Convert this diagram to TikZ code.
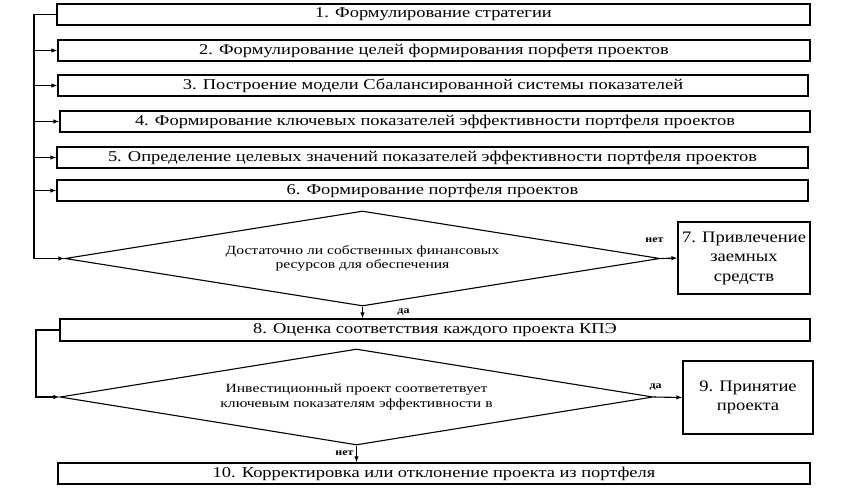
\documentclass[tikz,border=0pt]{standalone}
\usepackage{fontspec}
\setmainfont{Liberation Serif}
\newfontfamily\boxfont[FakeStretch=1.23]{Liberation Serif}
\newfontfamily\sidefont[FakeStretch=1.16]{Liberation Serif}
\newfontfamily\dfont[FakeStretch=1.25]{Liberation Serif}
\newfontfamily\lblfont[FakeStretch=1.2]{Liberation Serif}
\usetikzlibrary{shapes.geometric,arrows.meta}
\begin{document}
\begin{tikzpicture}[x=1pt,y=-1pt,
  box/.style={draw,line width=1.3pt,rectangle,inner sep=0pt,font=\boxfont\fontsize{15}{16}\selectfont},
  sidebox/.style={draw,line width=1.1pt,rectangle,inner sep=0pt,align=center,font=\sidefont\fontsize{16}{19.5}\selectfont},
  dia/.style={draw,line width=1.1pt,diamond,inner sep=0pt,align=center,font=\dfont\fontsize{12.5}{14.5}\selectfont,aspect=6.25},
  arr/.style={line width=1.1pt,-{Latex[length=6pt,width=4.5pt]}},
  lbl/.style={font=\lblfont\bfseries\fontsize{10}{11}\selectfont,inner sep=0pt}]
\useasboundingbox (0,0) rectangle (857,493);
\node[box,minimum width=753pt,minimum height=21pt] (b1) at (433.5,14.5) {1. Формулирование  стратегии};
\node[box,minimum width=752pt,minimum height=21pt] (b2) at (434,50.5) {2. Формулирование целей  формирования порфетя проектов};
\node[box,minimum width=750pt,minimum height=21pt] (b3) at (433,85.5) {3. Построение модели Сбалансированной системы показателей};
\node[box,minimum width=750pt,minimum height=21pt] (b4) at (435,121.5) {4. Формирование ключевых показателей эффективности портфеля проектов};
\node[box,minimum width=751pt,minimum height=21pt] (b5) at (432.5,157.5) {5. Определение целевых значений показателей эффективности портфеля проектов};
\node[box,minimum width=751pt,minimum height=21pt] (b6) at (432.5,190.5) {6. Формирование  портфеля проектов};
\node[dia,minimum width=595pt,minimum height=95pt] (d1) at (362.5,258.5) {Достаточно ли собственных финансовых\\ресурсов для обеспечения};
\node[sidebox,minimum width=132pt,minimum height=72pt] (b7) at (744,258) {7. Привлечение\\заемных\\средств};
\node[box,minimum width=750pt,minimum height=22pt] (b8) at (435,330) {8. Оценка соответствия каждого проекта КПЭ};
\node[dia,minimum width=593pt,minimum height=96pt] (d2) at (356.5,397) {Инвестиционный проект соответетвует\\ключевым показателям эффективности в};
\node[sidebox,line width=1.3pt,minimum width=130pt,minimum height=73pt] (b9) at (748,397.5) {9. Принятие\\проекта};
\node[box,minimum width=752pt,minimum height=21pt] (b10) at (434,473.5) {10. Корректировка или отклонение проекта  из портфеля};
\coordinate (L) at (34,0);
\coordinate (M) at (36,0);
\draw[arr] (b1.west) -- (b1.west -| L) |- (d1.west);
\foreach \b in {b2,b3,b4,b5,b6}{\draw[arr] (\b.west -| L) -- (\b.west);}
\draw[arr] (d1.east) -- (b7.west) node[lbl,at start,xshift=-6pt,yshift=18pt] {нет};
\draw[arr] (d1.south) -- (d1.south |- b8.north) node[lbl,at start,xshift=41pt,yshift=-5pt] {да};
\draw[arr] (b8.west) -- (b8.west -| M) |- (d2.west);
\draw[arr] (d2.east) -- (b9.west) node[lbl,at start,xshift=2pt,yshift=10pt] {да};
\draw[arr] (d2.south) -- (d2.south |- b10.north) node[lbl,at start,xshift=-12pt,yshift=-8pt] {нет};
\end{tikzpicture}
\end{document}
